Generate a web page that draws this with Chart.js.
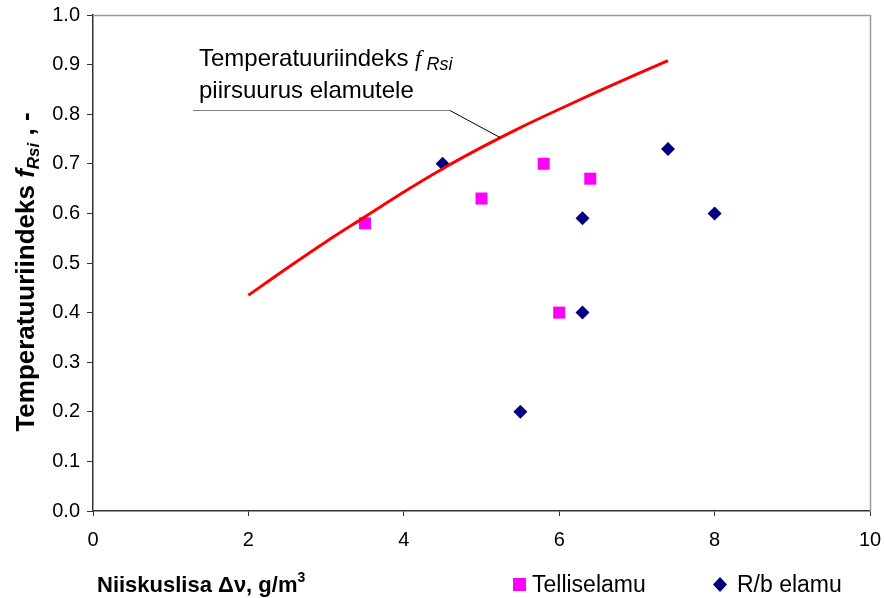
<!DOCTYPE html>
<html lang="et">
<head>
<meta charset="UTF-8">
<title>Temperatuuriindeks ja niiskuslisa</title>
<script src="https://cdn.jsdelivr.net/npm/chart.js"></script>
<style>
  html, body { margin: 0; padding: 0; background: #fff; }
  #wrap { width: 885px; height: 598px; }
</style>
</head>
<body>
<div id="wrap"><canvas id="fRsiChart" width="885" height="598"></canvas></div>
<script>
// Telliselamu (roosad ruudud)
const tellisX = [3.5, 5.0, 5.8, 6.4, 6.0];
const tellisY = [0.58, 0.63, 0.70, 0.67, 0.40];

// R/b elamu (sinised rombid)
const rbX = [4.5, 5.5, 6.3, 6.3, 7.4, 8.0];
const rbY = [0.70, 0.20, 0.59, 0.40, 0.73, 0.60];

// piirsuuruse kõver
const limitX = [2.0, 2.5, 3.0, 3.5, 4.0, 4.5, 5.0, 5.5, 6.0, 6.5, 7.0, 7.4];
const limitY = [0.435, 0.49, 0.543, 0.593, 0.643, 0.69, 0.733, 0.773, 0.81, 0.846, 0.881, 0.908];

const xTicks = [0, 2, 4, 6, 8, 10];
const yTicks = [0, 0.1, 0.2, 0.3, 0.4, 0.5, 0.6, 0.7, 0.8, 0.9, 1.0];

const toPoints = (xs, ys) => xs.map((x, i) => ({ x: x, y: ys[i] }));

const SANS = '"Liberation Sans", Arial, sans-serif';
const SERIF = '"Liberation Serif", "Times New Roman", serif';

// tekstilõikude joonistamine (alaindeksid jms)
function drawParts(ctx, parts, x, y) {
    let cx = x;
    parts.forEach(p => {
        ctx.font = p.font;
        ctx.fillText(p.text, cx, y + (p.dy || 0));
        cx += ctx.measureText(p.text).width;
    });
    return cx - x;
}
function partsWidth(ctx, parts) {
    let w = 0;
    parts.forEach(p => { ctx.font = p.font; w += ctx.measureText(p.text).width; });
    return w;
}

const extras = {
    id: 'extras',
    afterDraw(chart) {
        const ctx = chart.ctx;
        const a = chart.chartArea;
        const xs = chart.scales.x, ys = chart.scales.y;
        ctx.save();

        // joonisala ülemine ja parem serv
        ctx.strokeStyle = '#9a9a9a';
        ctx.lineWidth = 1.5;
        ctx.beginPath();
        ctx.moveTo(a.left, a.top + 0.5);
        ctx.lineTo(a.right + 0.5, a.top + 0.5);
        ctx.lineTo(a.right + 0.5, a.bottom);
        ctx.stroke();

        ctx.fillStyle = '#000';
        ctx.textBaseline = 'alphabetic';
        ctx.textAlign = 'left';

        // y-telje pealkiri
        const yParts = [
            { text: 'Temperatuuriindeks ', font: 'bold 26px ' + SANS },
            { text: 'f', font: 'italic bold 26px ' + SANS },
            { text: 'Rsi', font: 'italic bold 17px ' + SANS, dy: 5 },
            { text: ' , -', font: 'bold 26px ' + SANS }
        ];
        ctx.save();
        ctx.translate(34, 272);
        ctx.rotate(-Math.PI / 2);
        drawParts(ctx, yParts, -partsWidth(ctx, yParts) / 2, 0);
        ctx.restore();

        // x-telje pealkiri
        drawParts(ctx, [
            { text: 'Niiskuslisa Δν, g/m', font: 'bold 22px ' + SANS },
            { text: '3', font: 'bold 14px ' + SANS, dy: -10 }
        ], 97, 592);

        // legend
        ctx.font = '23px ' + SANS;
        ctx.fillStyle = '#ff00ff';
        ctx.fillRect(513, 578, 13, 13);
        ctx.fillStyle = '#000';
        ctx.fillText('Telliselamu', 532, 592);
        ctx.fillStyle = '#000080';
        ctx.beginPath();
        ctx.moveTo(720, 577); ctx.lineTo(727, 584.5); ctx.lineTo(720, 592); ctx.lineTo(713, 584.5);
        ctx.closePath();
        ctx.fill();
        ctx.fillStyle = '#000';
        ctx.fillText('R/b elamu', 737, 592);

        // kõvera selgitus
        drawParts(ctx, [
            { text: 'Temperatuuriindeks ', font: '24px ' + SANS },
            { text: 'f', font: 'italic 23px ' + SERIF },
            { text: ' Rsi', font: 'italic 18px ' + SANS, dy: 4 }
        ], 199, 66);
        ctx.font = '24px ' + SANS;
        ctx.fillText('piirsuurus elamutele', 199, 98);

        // viitejoon kõverani
        const px = xs.getPixelForValue(5.25), py = ys.getPixelForValue(0.752);
        ctx.strokeStyle = '#808080';
        ctx.lineWidth = 1.2;
        ctx.beginPath();
        ctx.moveTo(193, 110.5);
        ctx.lineTo(450, 110.5);
        ctx.stroke();
        ctx.strokeStyle = '#000';
        ctx.lineWidth = 1;
        ctx.beginPath();
        ctx.moveTo(450, 110.5);
        ctx.lineTo(px, py);
        ctx.stroke();

        ctx.restore();
    }
};

new Chart(document.getElementById('fRsiChart'), {
    type: 'scatter',
    data: {
        datasets: [
            {
                label: 'Piirsuurus',
                data: toPoints(limitX, limitY),
                showLine: true,
                borderColor: '#ff0000',
                borderWidth: 3,
                pointRadius: 0,
                cubicInterpolationMode: 'monotone',
                order: 0
            },
            {
                label: 'Telliselamu',
                data: toPoints(tellisX, tellisY),
                pointStyle: 'rect',
                pointRadius: 8.5,
                backgroundColor: '#ff00ff',
                borderColor: '#ff00ff',
                borderWidth: 0,
                order: 1
            },
            {
                label: 'R/b elamu',
                data: toPoints(rbX, rbY),
                pointStyle: 'rectRot',
                pointRadius: 7,
                backgroundColor: '#000080',
                borderColor: '#000080',
                borderWidth: 0,
                order: 2
            }
        ]
    },
    options: {
        responsive: false,
        animation: false,
        layout: { padding: { left: 0, top: 15, right: 15, bottom: 0 } },
        plugins: {
            legend: { display: false },
            tooltip: { enabled: false }
        },
        scales: {
            x: {
                type: 'linear',
                min: 0,
                max: 10,
                afterBuildTicks: s => { s.ticks = xTicks.map(v => ({ value: v })); },
                afterFit: s => { s.height = 87; s.paddingLeft = 0; s.paddingRight = 0; },
                border: { color: '#333', width: 1.5 },
                grid: { drawOnChartArea: false, tickLength: 5, color: '#333' },
                ticks: {
                    color: '#000',
                    font: { family: SANS, size: 20 },
                    padding: 12,
                    maxRotation: 0,
                    callback: v => String(v)
                }
            },
            y: {
                type: 'linear',
                min: 0,
                max: 1,
                afterBuildTicks: s => { s.ticks = yTicks.map(v => ({ value: v })); },
                afterFit: s => { s.width = 93; s.paddingTop = 0; s.paddingBottom = 0; },
                border: { color: '#333', width: 1.5 },
                grid: { drawOnChartArea: false, tickLength: 6, color: '#333' },
                ticks: {
                    color: '#000',
                    font: { family: SANS, size: 20 },
                    padding: 7,
                    callback: v => v.toFixed(1)
                }
            }
        }
    },
    plugins: [extras]
});
</script>
</body>
</html>
